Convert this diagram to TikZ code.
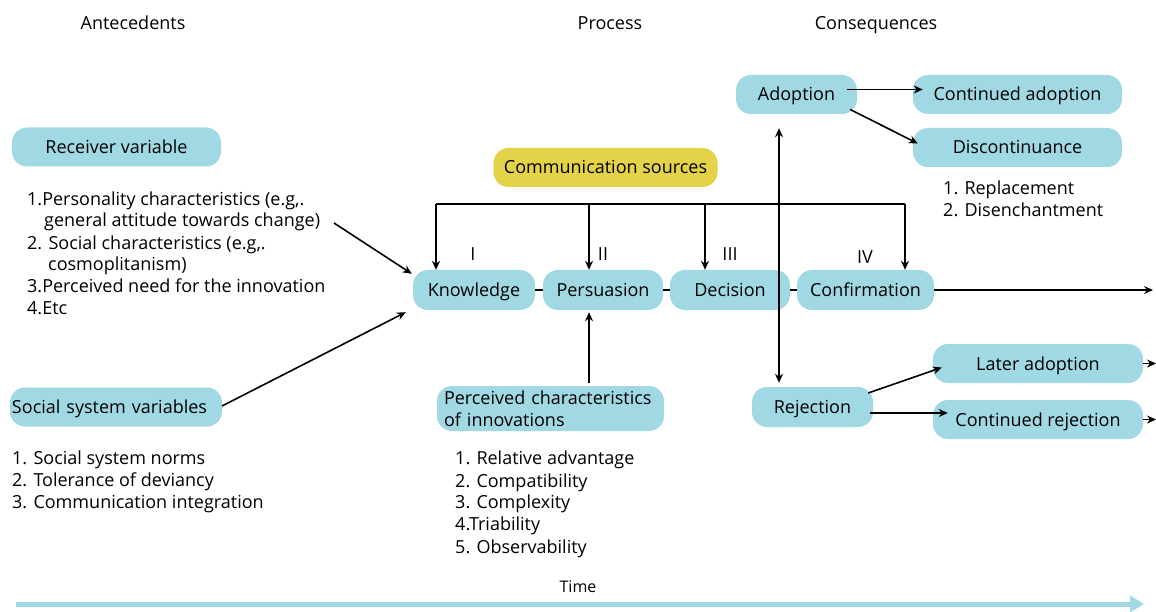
\documentclass[tikz,border=0pt]{standalone}
\usepackage{fontspec}
\setmainfont{Open Sans}
\usetikzlibrary{arrows.meta}
\definecolor{boxblue}{RGB}{160,217,227}
\definecolor{boxyellow}{RGB}{228,211,72}
\begin{document}
\begin{tikzpicture}[x=1pt,y=-1pt,
  basebox/.style={draw=none, fill=boxblue, rounded corners=15pt, minimum height=39pt, inner sep=0pt, font=\fontsize{18}{20}\selectfont},
  box/.style={basebox, text height=14pt, text depth=1pt},
  lbl/.style={font=\fontsize{18}{20}\selectfont, inner sep=0pt, text height=14pt, text depth=1pt},
  item/.style={lbl, anchor=west},
  ln/.style={line width=1.6pt},
  arr/.style={line width=1.6pt, -{Stealth[length=9pt,width=8pt]}}]
\useasboundingbox (0,0) rectangle (1156,612);

% headings
\node[lbl] (hA) at (133,23) {Antecedents};
\node[lbl] (hP) at (610,23) {Process};
\node[lbl] (hC) at (876,23) {Consequences};

% antecedents
\node[box, minimum width=209pt] (recv) at (116.5,147) {Receiver variable};
\node[item] (r1) at (27,199) {1.Personality characteristics (e.g,.};
\node[item] (r2) at (44,220) {general attitude towards change)};
\node[item] (r3) at (27,243) {2. Social characteristics (e.g,.};
\node[item] (r4) at (48,264) {cosmoplitanism)};
\node[item] (r5) at (27,286) {3.Perceived need for the innovation};
\node[item] (r6) at (27,308) {4.Etc};

\node[box, minimum width=212pt, text width=208pt, inner xsep=2pt, align=left] (soc) at (116,407) {Social system variables};
\node[item] (s1) at (12,458) {1. Social system norms};
\node[item] (s2) at (12,480) {2. Tolerance of deviancy};
\node[item] (s3) at (12,502) {3. Communication integration};

% process
\node[box, fill=boxyellow, minimum width=224pt] (comm) at (605.5,167.5) {Communication sources};
\node[box, minimum width=122pt, minimum height=40pt] (know) at (474,290) {Knowledge};
\node[box, minimum width=120pt, minimum height=40pt] (pers) at (603,290) {Persuasion};
\node[box, minimum width=120pt, minimum height=40pt] (dec) at (730,290) {Decision};
\node[box, minimum width=137pt, minimum height=40pt] (conf) at (865.5,290) {Confirmation};

\node[lbl] (n1) at (473,254) {I};
\node[lbl] (n2) at (603,254) {II};
\node[lbl] (n3) at (730,254) {III};
\node[lbl] (n4) at (865,257) {IV};

\node[basebox, minimum width=227pt, minimum height=45pt, text width=213pt, inner xsep=7pt, align=left, font=\fontsize{18}{22}\selectfont] (perc) at (550.5,408.5) {Perceived characteristics\\of innovations};
\node[item] (p1) at (455,458) {1. Relative advantage};
\node[item] (p2) at (455,481) {2. Compatibility};
\node[item] (p3) at (455,502) {3. Complexity};
\node[item] (p4) at (455,524) {4.Triability};
\node[item] (p5) at (455,547) {5. Observability};

% consequences
\node[box, minimum width=121pt] (adop) at (796.5,94.5) {Adoption};
\node[box, minimum width=209pt] (cont) at (1017.5,94.5) {Continued adoption};
\node[box, minimum width=209pt] (disc) at (1017.5,147.5) {Discontinuance};
\node[item] (d1) at (943,188) {1. Replacement};
\node[item] (d2) at (943,210) {2. Disenchantment};

\node[box, minimum width=121pt, minimum height=40pt] (rej) at (812.5,407) {Rejection};
\node[box, minimum width=210pt] (later) at (1038,363.5) {Later adoption};
\node[box, minimum width=210pt] (crej) at (1038,419.5) {Continued rejection};

% antecedent arrows
\coordinate (ra) at (334,223);
\draw[arr] (ra) -- ([xshift=-1pt,yshift=-4pt]know.north west);
\coordinate (sa) at (222,406);
\draw[arr] (sa) -- ([xshift=-7pt,yshift=-2pt]know.south west);

% process line
\draw[ln] (know.east) -- (pers.west);
\draw[ln] (pers.east) -- (dec.west);
\draw[ln] (dec.east) -- (conf.west);
\coordinate (mainend) at (1153,290);
\draw[arr] (conf.east) -- (mainend);

% communication bracket
\coordinate (b1) at (436,204);
\coordinate (b2) at (589,204);
\coordinate (b3) at (705,204);
\coordinate (b4) at (905,204);
\draw[ln] (b1) -- (b4);
\draw[arr] (b1) -- (b1 |- know.north);
\draw[arr] (b2) -- (b2 |- pers.north);
\draw[arr] (b3) -- (b3 |- dec.north);
\draw[arr] (b4) -- (b4 |- conf.north);

% perceived -> persuasion
\coordinate (pa) at (589,383);
\draw[arr] (pa) -- ([yshift=-2pt]pa |- pers.south);

% decision up / down
\coordinate (vx) at (779,290);
\draw[arr] (vx) -- ([yshift=-14pt]vx |- adop.south);
\draw[arr] (vx) -- ([yshift=4pt]vx |- rej.north);

% adoption branches
\draw[arr] ([xshift=-10pt,yshift=5pt]adop.east) -- ([xshift=10pt,yshift=5pt]cont.west);
\draw[arr] ([xshift=-7pt,yshift=-15pt]adop.east) -- ([xshift=5pt,yshift=4pt]disc.west);

% rejection branches
\draw[arr] ([xshift=-5pt,yshift=14pt]rej.east) -- ([xshift=9pt,yshift=-4pt]later.west);
\draw[arr] ([xshift=-3pt,yshift=-6pt]rej.east) -- ([xshift=15pt,yshift=-6pt]rej.east -| crej.west);
\coordinate (le) at (1156,363.5);
\coordinate (ce) at (1156,419.5);
\draw[arr] (later.east) -- (le);
\draw[arr] (crej.east) -- (ce);

% time
\node[lbl, font=\fontsize{16}{18}\selectfont] (time) at (578,586) {Time};
\coordinate (t0) at (16,604);
\coordinate (t1) at (1144,604);
\draw[boxblue, line width=5pt, -{Triangle[length=14pt,width=16pt]}] (t0) -- (t1);
\end{tikzpicture}
\end{document}
